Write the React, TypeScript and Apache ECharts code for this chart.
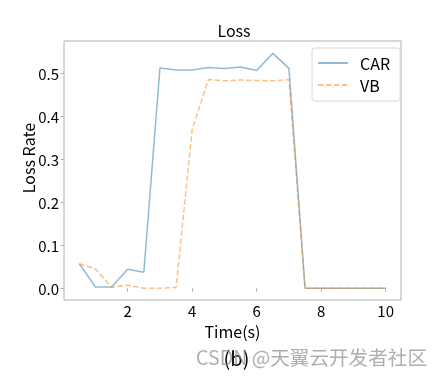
import React, { useEffect, useRef } from "react";
import * as echarts from "echarts";

const xs = [0.5, 1, 1.5, 2, 2.5, 3, 3.5, 4, 4.5, 5, 5.5, 6, 6.5, 7, 7.5, 8, 8.5, 9, 9.5, 10];
const carValues = [0.057, 0.003, 0.003, 0.044, 0.037, 0.513, 0.508, 0.508, 0.514, 0.512, 0.515, 0.507, 0.547, 0.512, 0, 0, 0, 0, 0, 0];
const vbValues = [0.057, 0.045, 0.002, 0.007, 0.0, 0.0, 0.002, 0.37, 0.486, 0.483, 0.485, 0.484, 0.483, 0.486, 0, 0, 0, 0, 0, 0];
const xTicks = [2, 4, 6, 8, 10];
const yTicks = [0, 0.1, 0.2, 0.3, 0.4, 0.5];

const FONT = "Noto Sans CJK SC";

export default function App() {
  const ref = useRef<HTMLDivElement>(null);
  useEffect(() => {
    if (!ref.current) return;
    const chart = echarts.init(ref.current, undefined, { renderer: "svg" });
    chart.setOption({
      animation: false,
      textStyle: { fontFamily: FONT },
      title: {
        text: "Loss",
        left: 234,
        textAlign: "center",
        top: 22,
        padding: 0,
        textStyle: { fontFamily: FONT, fontSize: 16, fontWeight: "normal", color: "#000" },
      },
      grid: {
        left: 64,
        top: 41,
        width: 337,
        height: 259,
        show: true,
        borderColor: "#b0b0b0",
        borderWidth: 1,
        backgroundColor: "transparent",
      },
      legend: {
        orient: "vertical",
        left: 312,
        top: 48,
        padding: [7, 10, 8, 5],
        itemWidth: 30,
        itemHeight: 14,
        itemGap: 6,
        borderColor: "#d8d8d8",
        borderWidth: 1,
        borderRadius: 3,
        backgroundColor: "rgba(255,255,255,0.8)",
        itemStyle: { opacity: 0 },
        textStyle: { fontFamily: FONT, fontSize: 16, color: "#000", padding: [0, 0, 0, 7] },
        data: ["CAR", "VB"],
      },
      xAxis: {
        type: "value",
        min: 0.025,
        max: 10.475,
        name: "Time(s)",
        nameLocation: "middle",
        nameGap: 15,
        nameTextStyle: { fontFamily: FONT, fontSize: 16, color: "#000", verticalAlign: "top" },
        axisLine: { show: false },
        splitLine: { show: false },
        axisTick: { show: true, length: 3.5, lineStyle: { color: "#b0b0b0" }, customValues: xTicks },
        axisLabel: {
          customValues: xTicks,
          fontFamily: FONT,
          fontSize: 15,
          color: "#000",
          margin: 3,
          formatter: (v: number) => String(v),
        },
      },
      yAxis: {
        type: "value",
        min: -0.0274,
        max: 0.5758,
        splitLine: { show: false },
        axisLine: { show: false },
        axisTick: { show: true, length: 3.5, lineStyle: { color: "#b0b0b0" }, customValues: yTicks },
        axisLabel: {
          customValues: yTicks,
          fontFamily: FONT,
          fontSize: 15,
          color: "#000",
          margin: 5,
          formatter: (v: number) => v.toFixed(1),
        },
      },
      series: [
        {
          name: "CAR",
          type: "line",
          symbol: "none",
          data: xs.map((x, i) => [x, carValues[i]]),
          lineStyle: { color: "rgba(31,119,180,0.5)", width: 1.5 },
          itemStyle: { color: "rgba(31,119,180,0.5)" },
        },
        {
          name: "VB",
          type: "line",
          symbol: "none",
          data: xs.map((x, i) => [x, vbValues[i]]),
          lineStyle: { color: "rgba(255,127,14,0.5)", width: 1.5, type: [5.5, 2.4] },
          itemStyle: { color: "rgba(255,127,14,0.5)" },
        },
      ],
      graphic: [
        {
          type: "text",
          x: 28,
          y: 158,
          rotation: Math.PI / 2,
          style: {
            text: "Loss Rate",
            fontFamily: FONT,
            fontSize: 16,
            fill: "#000",
            align: "center",
            verticalAlign: "middle",
          },
        },
        {
          type: "text",
          x: 236.5,
          y: 357,
          style: {
            text: "(b)",
            fontFamily: FONT,
            fontSize: 20,
            fill: "#000",
            align: "center",
            verticalAlign: "middle",
          },
        },
        {
          type: "text",
          left: 196,
          top: 347,
          style: {
            text: "CSDN @天翼云开发者社区",
            fontFamily: FONT,
            fontSize: 19.6,
            fill: "rgba(140,140,140,0.7)",
          },
        },
      ],
    });
    return () => chart.dispose();
  }, []);
  return <div ref={ref} style={{ position: "fixed", left: 0, top: 0, width: 443, height: 385 }} />;
}
